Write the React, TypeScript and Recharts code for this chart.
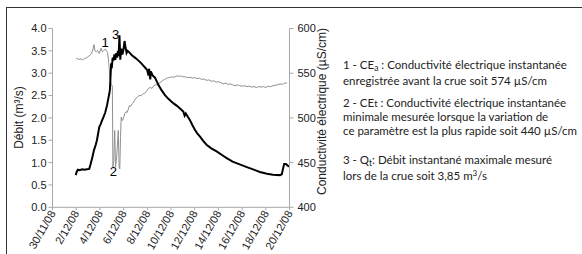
import React from 'react';
import { LineChart, Line, XAxis, YAxis, ReferenceDot } from 'recharts';

// days since 30/11/08
const dayTicks = [0, 2, 4, 6, 8, 10, 12, 14, 16, 18, 20];
const dateLabels = ['30/11/08', '2/12/08', '4/12/08', '6/12/08', '8/12/08', '10/12/08', '12/12/08', '14/12/08', '16/12/08', '18/12/08', '20/12/08'];
const qTicks = [0, 0.5, 1, 1.5, 2, 2.5, 3, 3.5, 4];
const ceTicks = [400, 450, 500, 550, 600];

// Débit (m3/s)
const qTimes = [1.96, 2.05, 2.15, 2.3, 2.5, 2.7, 2.9, 3.1, 3.2, 3.35, 3.5, 3.65, 3.75, 3.85, 3.95, 4.05, 4.15, 4.3, 4.45, 4.6, 4.7, 4.8, 4.85, 4.9, 4.95, 5.02, 5.08, 5.15, 5.22, 5.3, 5.38, 5.45, 5.52, 5.58, 5.65, 5.72, 5.8, 5.9, 6.0, 6.08, 6.15, 6.25, 6.35, 6.5, 6.7, 6.9, 7.1, 7.3, 7.5, 7.7, 7.9, 8.0, 8.1, 8.15, 8.25, 8.3, 8.45, 8.65, 8.93, 9.2, 9.49, 9.8, 10.19, 10.5, 10.76, 11.04, 11.15, 11.25, 11.6, 11.8, 12.03, 12.2, 12.45, 12.7, 13.0, 13.4, 13.85, 14.3, 14.7, 15.2, 15.8, 16.4, 16.7, 17.2, 17.5, 18.1, 18.6, 19.2, 19.35, 19.45, 19.55, 19.7, 19.85, 20.0];
const qValues = [0.72, 0.8, 0.84, 0.83, 0.85, 0.84, 0.85, 0.86, 0.95, 1.1, 1.28, 1.4, 1.5, 1.65, 1.8, 1.85, 1.92, 2.02, 2.12, 2.28, 2.42, 2.55, 2.65, 2.95, 3.22, 3.18, 3.35, 3.28, 3.42, 3.3, 3.45, 3.35, 3.5, 3.38, 3.85, 3.3, 3.55, 3.42, 3.55, 3.72, 3.6, 3.45, 3.5, 3.46, 3.4, 3.36, 3.32, 3.27, 3.22, 3.16, 3.1, 3.06, 2.95, 3.1, 2.86, 3.04, 2.95, 2.9, 2.74, 2.62, 2.51, 2.42, 2.33, 2.27, 2.21, 2.14, 2.05, 2.1, 1.95, 1.84, 1.73, 1.66, 1.58, 1.49, 1.4, 1.32, 1.25, 1.17, 1.1, 1.02, 0.96, 0.9, 0.87, 0.82, 0.79, 0.75, 0.73, 0.72, 0.74, 0.86, 0.97, 0.97, 0.93, 0.91];

// Conductivité électrique (µS/cm)
const ceTimes = [1.98, 2.1, 2.25, 2.4, 2.55, 2.7, 2.85, 3.0, 3.15, 3.3, 3.4, 3.5, 3.58, 3.7, 3.8, 3.95, 4.1, 4.2, 4.3, 4.45, 4.55, 4.65, 4.75, 4.85, 4.95, 5.05, 5.1, 5.17, 5.25, 5.32, 5.42, 5.55, 5.62, 5.68, 5.74, 5.8, 5.9, 6.0, 6.1, 6.2, 6.3, 6.4, 6.5, 6.6, 6.75, 6.9, 7.05, 7.2, 7.35, 7.5, 7.65, 7.8, 7.95, 8.1, 8.25, 8.4, 8.55, 8.7, 8.85, 9.0, 9.15, 9.3, 9.45, 9.6, 9.75, 9.9, 10.05, 10.2, 10.35, 10.5, 10.65, 10.8, 11.0, 11.2, 11.4, 11.6, 11.8, 12.0, 12.2, 12.4, 12.6, 12.8, 13.0, 13.2, 13.4, 13.6, 13.8, 14.0, 14.2, 14.4, 14.6, 14.8, 15.0, 15.2, 15.4, 15.6, 15.8, 16.0, 16.2, 16.4, 16.6, 16.8, 17.0, 17.2, 17.4, 17.6, 17.8, 18.0, 18.2, 18.4, 18.6, 18.8, 19.0, 19.2, 19.4, 19.6, 19.8];
const ceValues = [567, 566, 565.5, 566, 565, 566.5, 567, 568.5, 570, 572, 576, 582, 575, 574, 575.5, 572, 578, 574, 575, 577, 575, 573, 561, 545, 537, 536, 445, 452, 486, 445, 457, 486, 445, 443, 479, 501, 497, 500, 505, 507, 506, 510, 514, 513, 516, 519, 522, 524, 525, 525, 527, 528, 530, 533, 534, 533, 536, 537, 537, 539, 540, 542, 543, 544, 545, 545, 546, 545.5, 546, 547, 546.5, 547, 546, 546, 545, 545.5, 544.5, 545, 544, 544.5, 543, 543.5, 542, 542.5, 541, 541.5, 540, 540.5, 539.5, 538, 539, 537.5, 538, 537, 536, 537, 536, 535.5, 536, 535, 535.5, 534.5, 535, 534, 535, 534.5, 535, 534, 535.5, 535, 536, 536.5, 537, 538, 537.5, 539, 539];

const qData = qTimes.map((t, i) => ({ t, q: qValues[i] }));
const ceData = ceTimes.map((t, i) => ({ t, ce: ceValues[i] }));

const AXIS = '#a8a8a8';
const TXT = '#222';
const FONT = '"Liberation Sans", Arial, sans-serif';
const NOTE_FONT = 'Lato, "Open Sans", sans-serif';

const DateTick = (props: any) => {
  const { x, y, payload } = props;
  const idx = dayTicks.indexOf(payload.value);
  return (
    <text x={x} y={y} transform={`rotate(-60 ${x} ${y})`} textAnchor="end" dominantBaseline="central"
      fontFamily={FONT} fontSize={11} fill={TXT}>
      {dateLabels[idx]}
    </text>
  );
};

const noteLine = (top: number, content: React.ReactNode) => (
  <div style={{ position: 'absolute', left: 343, top, fontFamily: NOTE_FONT, fontSize: 11.5, lineHeight: '14px', color: TXT, whiteSpace: 'nowrap' }}>
    {content}
  </div>
);

const sub = (s: string) => <span style={{ fontSize: 8.5, verticalAlign: -2 }}>{s}</span>;

export default function App() {
  return (
    <div style={{ position: 'absolute', left: 0, top: 0, width: 582, height: 254, background: '#fff', overflow: 'hidden' }}>
      <div style={{ position: 'absolute', left: 6, top: 7, width: 580, height: 250, borderTop: '1.5px solid #333', borderLeft: '1.5px solid #333' }} />
      <div style={{ position: 'absolute', left: 0, top: 0 }}>
        <LineChart width={582} height={254} margin={{ top: 28.5, right: 247.5, bottom: 0, left: 7.5 }}>
          <XAxis xAxisId="b" type="number" dataKey="t" domain={[0, 20]} ticks={dayTicks} interval={0}
            tick={<DateTick />} height={46.7} stroke={AXIS} tickSize={3} tickMargin={1} allowDataOverflow />
          <XAxis xAxisId="top" orientation="top" type="number" dataKey="t" domain={[0, 20]} tick={false}
            tickLine={false} height={0} stroke={AXIS} />
          <YAxis yAxisId="q" domain={[0, 4]} ticks={qTicks} interval={0} width={45} stroke={AXIS} tickSize={4}
            tickMargin={2} tickFormatter={(v: number) => v.toFixed(1)}
            tick={{ fill: TXT, fontSize: 11, fontFamily: FONT }}
            label={{ content: () => (
              <text x={19} y={117.5} transform="rotate(-90 19 117.5)" textAnchor="middle" dominantBaseline="central"
                fontFamily={FONT} fontSize={12} fill={TXT}>Débit (m³/s)</text>
            ) }} />
          <YAxis yAxisId="ce" orientation="right" domain={[400, 600]} ticks={ceTicks} interval={0} width={45}
            stroke={AXIS} tickSize={4} tickMargin={4}
            tick={{ fill: TXT, fontSize: 11, fontFamily: FONT }}
            label={{ content: () => (
              <text x={322} y={111.5} transform="rotate(-90 322 111.5)" textAnchor="middle" dominantBaseline="central"
                fontFamily={FONT} fontSize={12} fill={TXT}>Conductivité électrique (µS/cm)</text>
            ) }} />
          <Line xAxisId="b" yAxisId="ce" data={ceData} dataKey="ce" type="linear" stroke="#8f8f8f" strokeWidth={1}
            dot={false} isAnimationActive={false} />
          <Line xAxisId="b" yAxisId="q" data={qData} dataKey="q" type="linear" stroke="#000" strokeWidth={2}
            dot={false} isAnimationActive={false} />
          <ReferenceDot xAxisId="b" yAxisId="ce" x={4.43} y={584.3} r={0} ifOverflow="visible"
            label={{ value: '1', position: 'center', fontSize: 13, fontFamily: FONT, fill: '#000' }} />
          <ReferenceDot xAxisId="b" yAxisId="ce" x={5.13} y={440.6} r={0} ifOverflow="visible"
            label={{ value: '2', position: 'center', fontSize: 13, fontFamily: FONT, fill: '#000' }} />
          <ReferenceDot xAxisId="b" yAxisId="q" x={5.33} y={3.87} r={0} ifOverflow="visible"
            label={{ value: '3', position: 'center', fontSize: 13, fontFamily: FONT, fill: '#000' }} />
        </LineChart>
      </div>
      {noteLine(58, <>1 - CE{sub('a')} : Conductivité électrique instantanée</>)}
      {noteLine(74, <>enregistrée avant la crue soit 574 µS/cm</>)}
      {noteLine(96, <>2 - CE<span style={{ fontSize: 9.5 }}>t</span> :  Conductivité électrique instantanée</>)}
      {noteLine(110, <>minimale mesurée lorsque la variation de</>)}
      {noteLine(124, <>ce paramètre est la plus rapide soit 440 µS/cm</>)}
      {noteLine(153, <>3 - Q{sub('t')}: Débit instantané maximale mesuré</>)}
      {noteLine(166, <>lors de la crue soit 3,85 m<sup style={{ fontSize: 8, verticalAlign: 4 }}>3</sup>/s</>)}
    </div>
  );
}
